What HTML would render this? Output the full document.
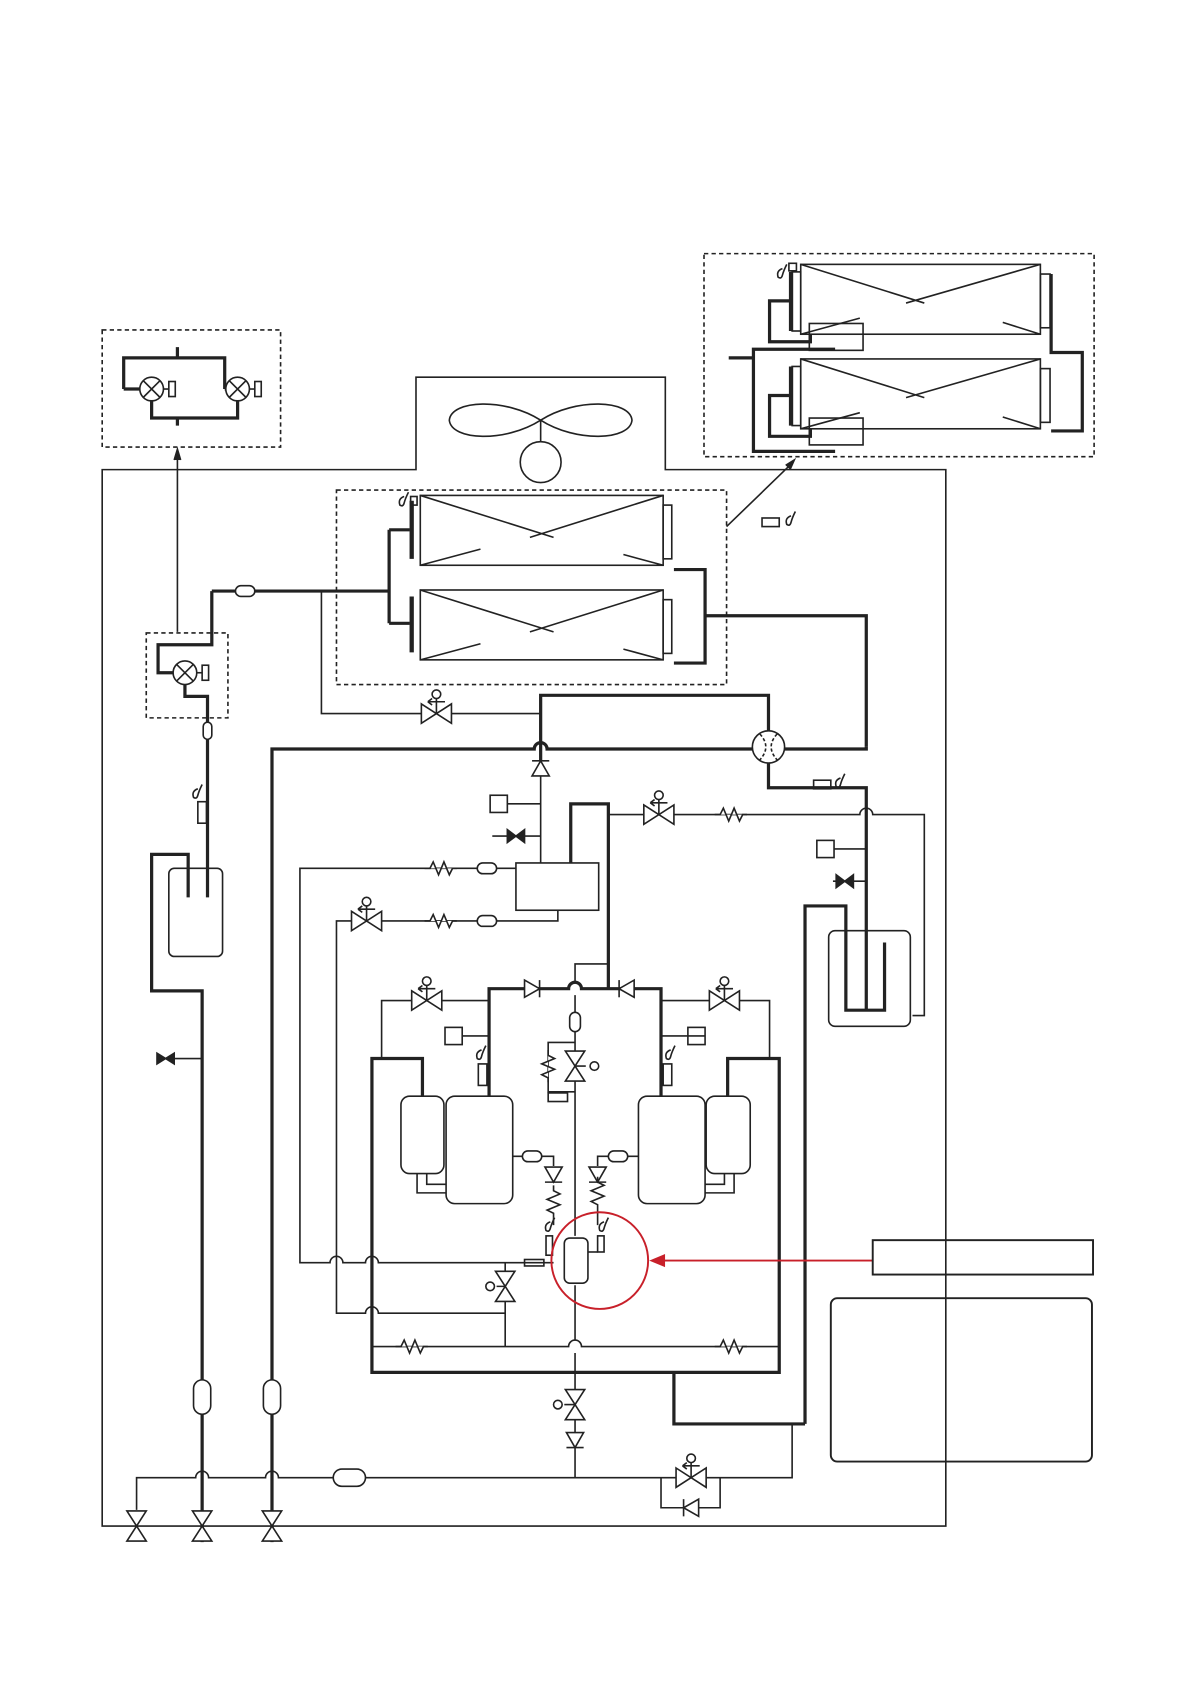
<!DOCTYPE html>
<html><head><meta charset="utf-8"><style>html,body{margin:0;padding:0;background:#fff}svg{display:block}</style></head>
<body>
<svg width="1192" height="1684" viewBox="0 0 1109 1567" xmlns="http://www.w3.org/2000/svg" fill="none" stroke="#222" stroke-width="1.5">
<defs>
<g id="sv"><path d="M-14,-9 L14,9 L14,-9 L-14,9 Z" fill="#fff"/><line x1="0" y1="0" x2="0" y2="-14"/><circle cx="0" cy="-18" r="4" fill="#fff"/><path d="M-8,-11 H8 M-8,-11 l4,-3 M-8,-11 l4,3"/></g>
<g id="bt"><path d="M-14,-9 L14,9 L14,-9 L-14,9 Z" fill="#fff"/></g>
<g id="cap"><rect x="-9" y="-5" width="18" height="10" rx="5" fill="#fff"/></g>
<g id="zz"><path d="M-15,0 L-10,0 L-7,-6 L-2,6 L3,-6 L8,6 L11,0 L15,0" fill="#fff"/></g>
<g id="chk"><path d="M-7,-8 L7,0 L-7,8 Z" fill="#fff"/><line x1="7" y1="-8" x2="7" y2="8"/></g>
<g id="ev"><circle cx="0" cy="0" r="11" fill="#fff"/><path d="M-8,-8 L8,8 M8,-8 L-8,8"/><rect x="16" y="-7" width="6" height="14" fill="#fff"/><line x1="11" y1="0" x2="16" y2="0"/></g>
<g id="sen"><path d="M0,-8 q-6,2 -4,8 q3,2 4,-2 q1,-4 4,-10"/></g>
</defs>

<path d="M95,437 H387 V351 H619 V437 H880 V1420 H95 Z"/>
<path d="M503,391 C470,370 420,372 418,391 C420,410 470,412 503,391 C536,370 586,372 588,391 C586,410 536,412 503,391 Z"/>
<line x1="503" y1="391" x2="503" y2="411"/>
<circle cx="503" cy="430" r="19"/>

<rect x="95" y="307" width="166" height="109" stroke-dasharray="4,3"/>
<path d="M165,323 V333 M115,362 V333 H209 V362 M141,373 V389 H221 V373 M165,389 V396" stroke-width="3"/>
<path d="M115,362 H130 M209,362 H210" stroke-width="3"/>
<use href="#ev" x="141" y="362"/><use href="#ev" x="221" y="362"/>
<path d="M165,588 V420"/><path d="M162,428 L165,418 L168,428" fill="#222"/>

<rect x="136" y="589" width="76" height="79" stroke-dasharray="4,3"/>
<path d="M197,550 V600 H147 V626 H161 M172,637 V648 H193 V835" stroke-width="3"/>
<use href="#ev" x="172" y="626"/>
<rect x="189" y="672" width="8" height="16" rx="4" fill="#fff"/>
<use href="#sen" x="184" y="742"/><rect x="184" y="746" width="8" height="20" fill="#fff"/>
<rect x="157" y="808" width="50" height="82" rx="5"/>
<path d="M175,835 V795 H141 V922 H188 V1435" stroke-width="3"/>
<path d="M197,550 H362" stroke-width="3"/>
<use href="#cap" x="228" y="550"/>
<path d="M299,550 V664 H503"/>
<use href="#sv" x="406" y="664"/>

<rect x="313" y="456" width="363" height="181" stroke-dasharray="4,3"/>
<path d="M362,493 V580 M362,493 H381 M362,580 H381" stroke-width="3"/>
<path d="M383,466 V520 M383,555 V607" stroke-width="4"/>
<rect x="382" y="462" width="6" height="8"/><use href="#sen" x="376" y="470"/>
<g id="coil"><rect x="391" y="461" width="226" height="65"/><path d="M391,461 L515,500 M617,461 L493,500 M391,526 L447,511 M617,526 L580,516"/><rect x="617" y="470" width="8" height="50"/></g>
<use href="#coil" y="88"/>
<path d="M627,530 H656 V617 H627" stroke-width="3"/>
<path d="M656,573 H806 V695" stroke-width="3"/>
<path d="M676,490 L738,430"/><path d="M731,433 L739,428 L735,437" fill="#222"/>
<rect x="709" y="482" width="16" height="8"/><use href="#sen" x="736" y="488"/>

<rect x="655" y="236" width="363" height="189" stroke-dasharray="4,3"/>
<g id="rc"><rect x="745" y="246" width="223" height="65"/><path d="M745,246 L860,282 M968,246 L843,282 M745,311 L800,296 M968,311 L933,300"/><path d="M736,253 V308" stroke-width="4"/><rect x="737" y="253" width="8" height="55"/><rect x="968" y="255" width="9" height="50"/><rect x="753" y="301" width="50" height="25"/></g>
<use href="#rc" y="88"/>
<rect x="734" y="245" width="7" height="7"/><use href="#sen" x="728" y="258"/>
<path d="M736,280 H716 V318 H754 V311 M736,368 H716 V406 H754 V399" stroke-width="3"/>
<path d="M678,333 H700 M777,325 H701 V420 H777" stroke-width="3"/>
<path d="M978,255 V328 H1007 V401 H978" stroke-width="3"/>

<path d="M253,1435 V697 H497 A6,6 0 0 1 509,697 H700 M730,697 H806 V695" stroke-width="3"/>
<circle cx="715" cy="695" r="15"/><path d="M707,683 Q718,695 707,707 M723,683 Q712,695 723,707" stroke-dasharray="3,2"/>
<path d="M503,708 V647 H715 V680 M715,710 V733 H806 V940" stroke-width="3"/>
<rect x="757" y="726" width="16" height="8"/><use href="#sen" x="782" y="732"/>
<path d="M503,708 V803"/>
<use href="#chk" transform="translate(503,715) rotate(-90)"/>
<rect x="456" y="740" width="16" height="16"/><path d="M472,748 H503"/>
<path d="M458,778 H503"/><path d="M472,772 L480,778 L472,784 Z M488,772 L480,778 L488,784 Z" fill="#222"/>
<rect x="480" y="803" width="77" height="44"/>
<path d="M531,803 V748 H566 V920" stroke-width="3"/>
<path d="M566,758 H800 A6,6 0 0 1 812,758 H860 V945 H849"/>
<use href="#sv" x="613" y="758"/><use href="#zz" x="680" y="758"/>
<rect x="760" y="782" width="16" height="16"/><path d="M776,790 H806"/>
<path d="M775,820 H806"/><path d="M778,814 L786,820 L778,826 Z M794,814 L786,820 L794,826 Z" fill="#222"/>
<rect x="771" y="866" width="76" height="89" rx="6"/>
<path d="M749,1325 V843 H787 V940 H823 V877" stroke-width="3"/>

<path d="M480,808 H279 V1175 H307 A6,6 0 0 1 319,1175 H340 A6,6 0 0 1 352,1175 H515"/>
<use href="#cap" x="453" y="808"/><use href="#zz" x="410" y="808"/>
<path d="M519,847 V857 H313 V1222 H340 A6,6 0 0 1 352,1222 H470"/>
<use href="#cap" x="453" y="857"/><use href="#zz" x="410" y="857"/><use href="#sv" x="341" y="857"/>

<path d="M393,1020 V985 H346 V1277 H725 V985 H677 V1020" stroke-width="3"/>
<path d="M346,1253 H529 A6,6 0 0 1 541,1253 H725"/>
<use href="#zz" x="383" y="1253"/><use href="#zz" x="680" y="1253"/>
<path d="M455,1020 V920 H529 A6,6 0 0 1 541,920 H615 V1020" stroke-width="3"/>
<use href="#chk" x="495" y="920"/><use href="#chk" transform="translate(583,920) rotate(180)"/>
<path d="M535,913 V897 H566"/>
<path d="M355,985 V931 H455 M615,931 H716 V985"/>
<use href="#sv" x="397" y="931"/><use href="#sv" x="674" y="931"/>
<rect x="414" y="956" width="16" height="16"/><path d="M430,964 H455"/>
<rect x="640" y="956" width="16" height="16"/><path d="M615,964 H656"/>
<use href="#sen" x="448" y="985"/><rect x="445" y="990" width="8" height="20"/>
<use href="#sen" x="624" y="985"/><rect x="617" y="990" width="8" height="20"/>
<path d="M535,926 V1150 M535,1196 V1247 M535,1259 V1375"/>
<rect x="530" y="942" width="10" height="18" rx="5" fill="#fff"/>
<use href="#bt" transform="translate(535,992) rotate(90)"/>
<path d="M535,992 H545"/><circle cx="553" cy="992" r="4"/>
<path d="M535,970 H510 V1016 H535"/>
<use href="#zz" transform="translate(510,992) rotate(90)"/>
<rect x="510" y="1017" width="18" height="8"/>
<rect x="373" y="1020" width="40" height="72" rx="8"/>
<rect x="415" y="1020" width="62" height="100" rx="8"/>
<rect x="594" y="1020" width="62" height="100" rx="8"/>
<rect x="657" y="1020" width="41" height="72" rx="8"/>
<path d="M388,1092 V1110 H415 M397,1092 V1102 H415 M683,1092 V1110 H656 M674,1092 V1102 H656"/>
<path d="M477,1076 H515 V1085 M594,1076 H556 V1085"/>
<use href="#cap" x="495" y="1076"/><use href="#cap" x="575" y="1076"/>
<use href="#chk" transform="translate(515,1093) rotate(90)"/><use href="#chk" transform="translate(556,1093) rotate(90)"/>
<use href="#zz" transform="translate(515,1118) rotate(90)"/><use href="#zz" transform="translate(556,1110) rotate(90)"/>
<path d="M515,1133 V1140 M556,1125 V1140"/>
<use href="#sen" x="512" y="1145"/><rect x="508" y="1150" width="6" height="18"/>
<use href="#sen" x="562" y="1145"/><rect x="556" y="1150" width="6" height="15"/><path d="M556,1165 H547"/>
<rect x="525" y="1152" width="22" height="42" rx="5" fill="#fff"/>
<rect x="488" y="1172" width="18" height="6"/>
<use href="#bt" transform="translate(470,1197) rotate(90)"/><path d="M470,1175 V1183 M470,1211 V1253 M470,1197 H462"/><circle cx="456" cy="1197" r="4"/>
<circle cx="558" cy="1173" r="45" stroke="#c8202a" stroke-width="1.8"/>
<path d="M812,1173 H610" stroke="#c8202a" stroke-width="1.8"/><path d="M618,1168 L606,1173 L618,1178 Z" fill="#c8202a" stroke="#c8202a"/>
<rect x="812" y="1154" width="205" height="32" stroke-width="1.8"/>
<rect x="773" y="1208" width="243" height="152" rx="6" stroke-width="1.8"/>
<use href="#bt" transform="translate(535,1307) rotate(90)"/><path d="M535,1307 H525"/><circle cx="519" cy="1307" r="4"/>
<use href="#chk" transform="translate(535,1340) rotate(90)"/>
<path d="M627,1277 V1325 H749" stroke-width="3"/>

<rect x="180" y="1284" width="16" height="32" rx="8" fill="#fff"/>
<rect x="245" y="1284" width="16" height="32" rx="8" fill="#fff"/>
<path d="M127,1405 V1375 H182 A6,6 0 0 1 194,1375 H247 A6,6 0 0 1 259,1375 H737 V1325"/>
<rect x="310" y="1367" width="30" height="16" rx="8" fill="#fff"/>
<use href="#sv" x="643" y="1375"/>
<path d="M615,1375 V1403 H670 V1375"/><use href="#chk" transform="translate(643,1403) rotate(180)"/>
<path d="M148,985 H188"/><path d="M146,980 L154,985 L146,990 Z M162,980 L154,985 L162,990 Z" fill="#222"/>
<use href="#bt" transform="translate(127,1420) rotate(90)"/>
<use href="#bt" transform="translate(188,1420) rotate(90)"/>
<use href="#bt" transform="translate(253,1420) rotate(90)"/>
</svg>
</body></html>
